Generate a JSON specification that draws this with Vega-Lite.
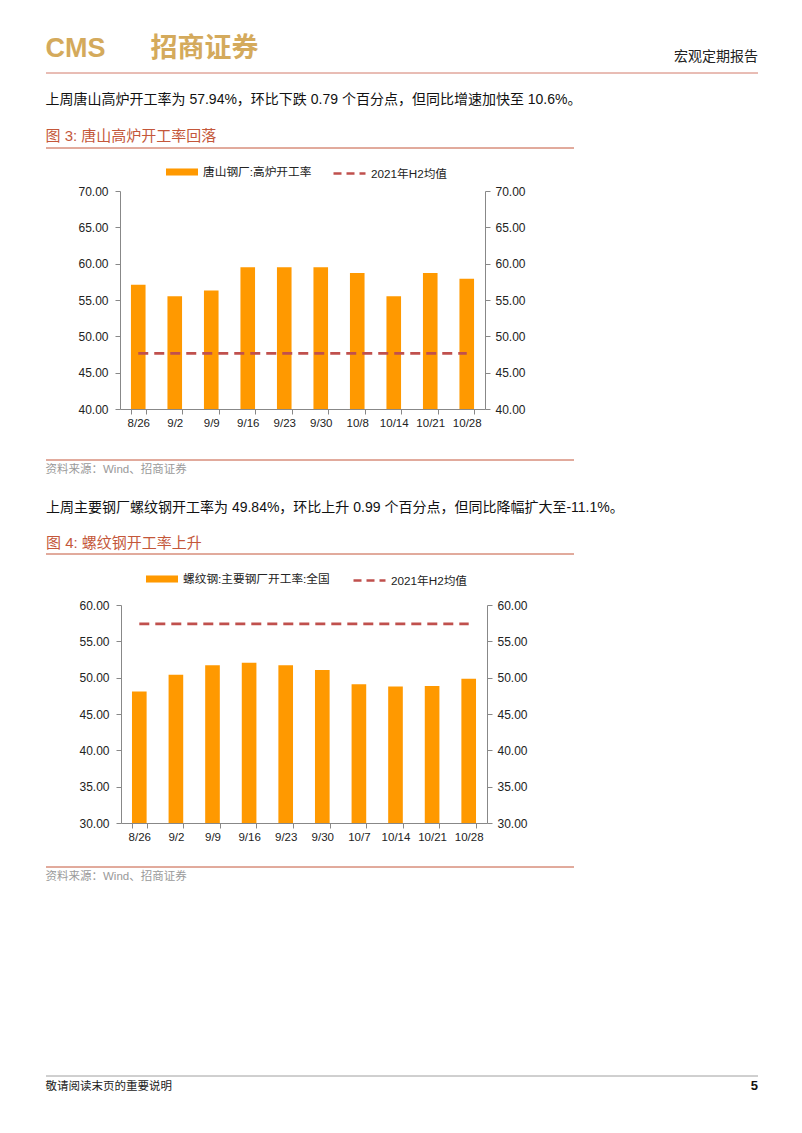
{
  "$schema": "https://vega.github.io/schema/vega-lite/v6.json",
  "background": "white",
  "padding": {"left": 45, "top": 34, "right": 10, "bottom": 30},
  "bounds": "flush",
  "spacing": 0,
  "config": {
    "view": {"stroke": null},
    "title": {"font": "Liberation Sans, Noto Sans CJK SC", "fontWeight": "normal"}
  },
  "resolve": {"scale": {"color": "independent", "x": "independent", "y": "independent"}, "legend": {"color": "independent"}},
  "datasets": {
    "d1": [
      {"date": "8/26", "v": 57.1, "avg": 47.65, "s1": "唐山钢厂:高炉开工率", "s2": "2021年H2均值"},
      {"date": "9/2", "v": 55.5, "avg": 47.65, "s1": "唐山钢厂:高炉开工率", "s2": "2021年H2均值"},
      {"date": "9/9", "v": 56.3, "avg": 47.65, "s1": "唐山钢厂:高炉开工率", "s2": "2021年H2均值"},
      {"date": "9/16", "v": 59.5, "avg": 47.65, "s1": "唐山钢厂:高炉开工率", "s2": "2021年H2均值"},
      {"date": "9/23", "v": 59.5, "avg": 47.65, "s1": "唐山钢厂:高炉开工率", "s2": "2021年H2均值"},
      {"date": "9/30", "v": 59.5, "avg": 47.65, "s1": "唐山钢厂:高炉开工率", "s2": "2021年H2均值"},
      {"date": "10/8", "v": 58.73, "avg": 47.65, "s1": "唐山钢厂:高炉开工率", "s2": "2021年H2均值"},
      {"date": "10/14", "v": 55.5, "avg": 47.65, "s1": "唐山钢厂:高炉开工率", "s2": "2021年H2均值"},
      {"date": "10/21", "v": 58.73, "avg": 47.65, "s1": "唐山钢厂:高炉开工率", "s2": "2021年H2均值"},
      {"date": "10/28", "v": 57.94, "avg": 47.65, "s1": "唐山钢厂:高炉开工率", "s2": "2021年H2均值"}
    ],
    "d2": [
      {"date": "8/26", "v": 48.1, "avg": 57.4, "s1": "螺纹钢:主要钢厂开工率:全国", "s2": "2021年H2均值"},
      {"date": "9/2", "v": 50.4, "avg": 57.4, "s1": "螺纹钢:主要钢厂开工率:全国", "s2": "2021年H2均值"},
      {"date": "9/9", "v": 51.7, "avg": 57.4, "s1": "螺纹钢:主要钢厂开工率:全国", "s2": "2021年H2均值"},
      {"date": "9/16", "v": 52.05, "avg": 57.4, "s1": "螺纹钢:主要钢厂开工率:全国", "s2": "2021年H2均值"},
      {"date": "9/23", "v": 51.7, "avg": 57.4, "s1": "螺纹钢:主要钢厂开工率:全国", "s2": "2021年H2均值"},
      {"date": "9/30", "v": 51.05, "avg": 57.4, "s1": "螺纹钢:主要钢厂开工率:全国", "s2": "2021年H2均值"},
      {"date": "10/7", "v": 49.1, "avg": 57.4, "s1": "螺纹钢:主要钢厂开工率:全国", "s2": "2021年H2均值"},
      {"date": "10/14", "v": 48.8, "avg": 57.4, "s1": "螺纹钢:主要钢厂开工率:全国", "s2": "2021年H2均值"},
      {"date": "10/21", "v": 48.85, "avg": 57.4, "s1": "螺纹钢:主要钢厂开工率:全国", "s2": "2021年H2均值"},
      {"date": "10/28", "v": 49.84, "avg": 57.4, "s1": "螺纹钢:主要钢厂开工率:全国", "s2": "2021年H2均值"}
    ]
  },
  "vconcat": [
    {
      "width": 712, "height": 1,
      "title": {"text": "CMS\u00a0\u00a0\u00a0\u00a0\u00a0\u00a0招商证券", "anchor": "start", "fontSize": 27, "fontWeight": "bold", "color": "#d4aa5c", "offset": 10, "font": "Liberation Sans, Noto Sans CJK SC"},
      "data": {"values": [{}]},
      "mark": {"type": "rule", "color": "#d27a6a", "strokeWidth": 1},
      "encoding": {"y": {"datum": 1, "type": "quantitative", "scale": {"domain": [0, 1]}, "axis": null}}
    },
    {
      "width": 712, "height": 74,
      "title": {"text": "宏观定期报告", "anchor": "end", "fontSize": 14, "color": "#222", "offset": 10, "font": "Noto Sans CJK SC"},
      "data": {"values": []},
      "mark": {"type": "rule"},
      "encoding": {"y": {"datum": 1, "type": "quantitative", "scale": {"domain": [0, 1]}, "axis": null}}
    },
    {
      "width": 528, "height": 43,
      "title": {"text": "上周唐山高炉开工率为 57.94%，环比下跌 0.79 个百分点，但同比增速加快至 10.6%。", "subtitle": "图 3:  唐山高炉开工率回落", "anchor": "start", "fontSize": 14, "color": "#111", "subtitleFont": "Liberation Sans, Noto Sans CJK SC", "subtitleFontSize": 15, "subtitleColor": "#c4573a", "subtitlePadding": 22, "offset": 4},
      "data": {"values": [{}]},
      "mark": {"type": "rule", "color": "#c4573a", "strokeWidth": 1},
      "encoding": {"y": {"datum": 1, "type": "quantitative", "scale": {"domain": [0, 1]}, "axis": null}}
    },
    {
      "width": 528, "height": 218,
      "data": {"name": "d1"},
      "layer": [
        {
          "mark": {"type": "bar", "color": "#ff9900", "clip": true},
          "encoding": {
            "x": {"field": "date", "type": "ordinal", "sort": null, "scale": {"range": [74, 439], "paddingInner": 0.6, "paddingOuter": 0.3},
                  "axis": {"title": null, "labelAngle": 0, "tickBand": "extent", "domainColor": "#888", "tickColor": "#888", "tickSize": 5, "labelPadding": 3, "labelFontSize": 11.5, "labelFont": "Liberation Sans", "labelColor": "#222", "grid": false}},
            "y": {"field": "v", "type": "quantitative", "scale": {"domain": [40, 70], "zero": false, "nice": false},
                  "axis": {"orient": "left", "offset": -74, "values": [40, 45, 50, 55, 60, 65, 70], "format": ".2f", "title": null, "domainColor": "#888", "tickColor": "#888", "tickSize": 5, "labelPadding": 7, "labelFontSize": 12, "labelFont": "Liberation Sans", "labelColor": "#222", "grid": false}},
            "color": {"field": "s1", "type": "nominal", "scale": {"range": ["#ff9900"]},
                      "legend": {"orient": "none", "legendX": 120, "legendY": -35, "title": null, "padding": 0, "symbolType": "M-1,-0.22H1V0.22H-1Z", "symbolSize": 1024, "symbolStrokeWidth": 0, "labelFontSize": 11.7, "labelFont": "Liberation Sans, Noto Sans CJK SC", "labelColor": "#222", "labelOffset": 5}}
          }
        },
        {
          "mark": {"type": "line", "strokeDash": [10, 6], "strokeWidth": 2.6, "color": "#c0504d"},
          "encoding": {
            "x": {"field": "date", "type": "ordinal", "sort": null},
            "y": {"field": "avg", "type": "quantitative", "scale": {"domain": [40, 70], "zero": false, "nice": false},
                  "axis": {"orient": "right", "offset": -89, "values": [40, 45, 50, 55, 60, 65, 70], "format": ".2f", "title": null, "domainColor": "#888", "tickColor": "#888", "tickSize": 5, "labelPadding": 5, "labelFontSize": 12, "labelFont": "Liberation Sans", "labelColor": "#222", "grid": false}},
            "color": {"field": "s2", "type": "nominal", "scale": {"range": ["#c0504d"]},
                      "legend": {"orient": "none", "legendX": 286, "legendY": -35, "title": null, "padding": 0, "symbolType": "stroke", "symbolSize": 1024, "symbolStrokeWidth": 2.5, "symbolDash": [8, 5], "labelFontSize": 11.7, "labelFont": "Liberation Sans, Noto Sans CJK SC", "labelColor": "#222", "labelOffset": 4}}
          }
        }
      ],
      "resolve": {"scale": {"color": "independent"}, "axis": {"y": "independent"}}
    },
    {
      "width": 528, "height": 51,
      "title": {"text": "资料来源：Wind、招商证券", "orient": "bottom", "anchor": "start", "fontSize": 11.5, "color": "#9a9a9a", "offset": 3},
      "data": {"values": [{}]},
      "mark": {"type": "rule", "color": "#c4573a", "strokeWidth": 1},
      "encoding": {"y": {"datum": 0, "type": "quantitative", "scale": {"domain": [0, 1]}, "axis": null}}
    },
    {
      "width": 528, "height": 94,
      "data": {"values": [{}]},
      "mark": {"type": "rule", "color": "#c4573a", "strokeWidth": 1},
      "encoding": {"y": {"datum": 0, "type": "quantitative", "scale": {"domain": [0, 1]}, "axis": null}}
    },
    {
      "width": 528, "height": 51,
      "title": {"text": "上周主要钢厂螺纹钢开工率为 49.84%，环比上升 0.99 个百分点，但同比降幅扩大至-11.1%。", "subtitle": "图 4:  螺纹钢开工率上升", "anchor": "start", "fontSize": 14, "color": "#111", "subtitleFont": "Liberation Sans, Noto Sans CJK SC", "subtitleFontSize": 15, "subtitleColor": "#c4573a", "subtitlePadding": 21, "offset": 3},
      "data": {"values": []},
      "mark": {"type": "rule"},
      "encoding": {"y": {"datum": 1, "type": "quantitative", "scale": {"domain": [0, 1]}, "axis": null}}
    },
    {
      "width": 528, "height": 218,
      "data": {"name": "d2"},
      "layer": [
        {
          "mark": {"type": "bar", "color": "#ff9900", "clip": true},
          "encoding": {
            "x": {"field": "date", "type": "ordinal", "sort": null, "scale": {"range": [75, 441], "paddingInner": 0.6, "paddingOuter": 0.3},
                  "axis": {"title": null, "labelAngle": 0, "tickBand": "extent", "domainColor": "#888", "tickColor": "#888", "tickSize": 5, "labelPadding": 3, "labelFontSize": 11.5, "labelFont": "Liberation Sans", "labelColor": "#222", "grid": false}},
            "y": {"field": "v", "type": "quantitative", "scale": {"domain": [30, 60], "zero": false, "nice": false},
                  "axis": {"orient": "left", "offset": -75, "values": [30, 35, 40, 45, 50, 55, 60], "format": ".2f", "title": null, "domainColor": "#888", "tickColor": "#888", "tickSize": 5, "labelPadding": 7, "labelFontSize": 12, "labelFont": "Liberation Sans", "labelColor": "#222", "grid": false}},
            "color": {"field": "s1", "type": "nominal", "scale": {"range": ["#ff9900"]},
                      "legend": {"orient": "none", "legendX": 100, "legendY": -42, "title": null, "padding": 0, "symbolType": "M-1,-0.22H1V0.22H-1Z", "symbolSize": 1024, "symbolStrokeWidth": 0, "labelFontSize": 11.7, "labelFont": "Liberation Sans, Noto Sans CJK SC", "labelColor": "#222", "labelOffset": 5}}
          }
        },
        {
          "mark": {"type": "line", "strokeDash": [10, 6], "strokeWidth": 2.6, "color": "#c0504d"},
          "encoding": {
            "x": {"field": "date", "type": "ordinal", "sort": null},
            "y": {"field": "avg", "type": "quantitative", "scale": {"domain": [30, 60], "zero": false, "nice": false},
                  "axis": {"orient": "right", "offset": -87, "values": [30, 35, 40, 45, 50, 55, 60], "format": ".2f", "title": null, "domainColor": "#888", "tickColor": "#888", "tickSize": 5, "labelPadding": 5, "labelFontSize": 12, "labelFont": "Liberation Sans", "labelColor": "#222", "grid": false}},
            "color": {"field": "s2", "type": "nominal", "scale": {"range": ["#c0504d"]},
                      "legend": {"orient": "none", "legendX": 306, "legendY": -42, "title": null, "padding": 0, "symbolType": "stroke", "symbolSize": 1024, "symbolStrokeWidth": 2.5, "symbolDash": [8, 5], "labelFontSize": 11.7, "labelFont": "Liberation Sans, Noto Sans CJK SC", "labelColor": "#222", "labelOffset": 4}}
          }
        }
      ],
      "resolve": {"scale": {"color": "independent"}, "axis": {"y": "independent"}}
    },
    {
      "width": 528, "height": 44,
      "title": {"text": "资料来源：Wind、招商证券", "orient": "bottom", "anchor": "start", "fontSize": 11.5, "color": "#9a9a9a", "offset": 3},
      "data": {"values": [{}]},
      "mark": {"type": "rule", "color": "#c4573a", "strokeWidth": 1},
      "encoding": {"y": {"datum": 0, "type": "quantitative", "scale": {"domain": [0, 1]}, "axis": null}}
    },
    {
      "width": 712, "height": 209,
      "title": {"text": "敬请阅读末页的重要说明", "orient": "bottom", "anchor": "start", "fontSize": 11.5, "color": "#222", "offset": 4, "font": "Noto Sans CJK SC"},
      "data": {"values": [{}]},
      "mark": {"type": "rule", "color": "#a0a0a0", "strokeWidth": 1},
      "encoding": {"y": {"datum": 0, "type": "quantitative", "scale": {"domain": [0, 1]}, "axis": null}}
    },
    {
      "width": 712, "height": 1,
      "title": {"text": "5", "orient": "bottom", "anchor": "end", "fontSize": 13, "fontWeight": "bold", "color": "#111", "offset": 3},
      "data": {"values": []},
      "mark": {"type": "rule"},
      "encoding": {"y": {"datum": 0, "type": "quantitative", "scale": {"domain": [0, 1]}, "axis": null}}
    }
  ]
}
